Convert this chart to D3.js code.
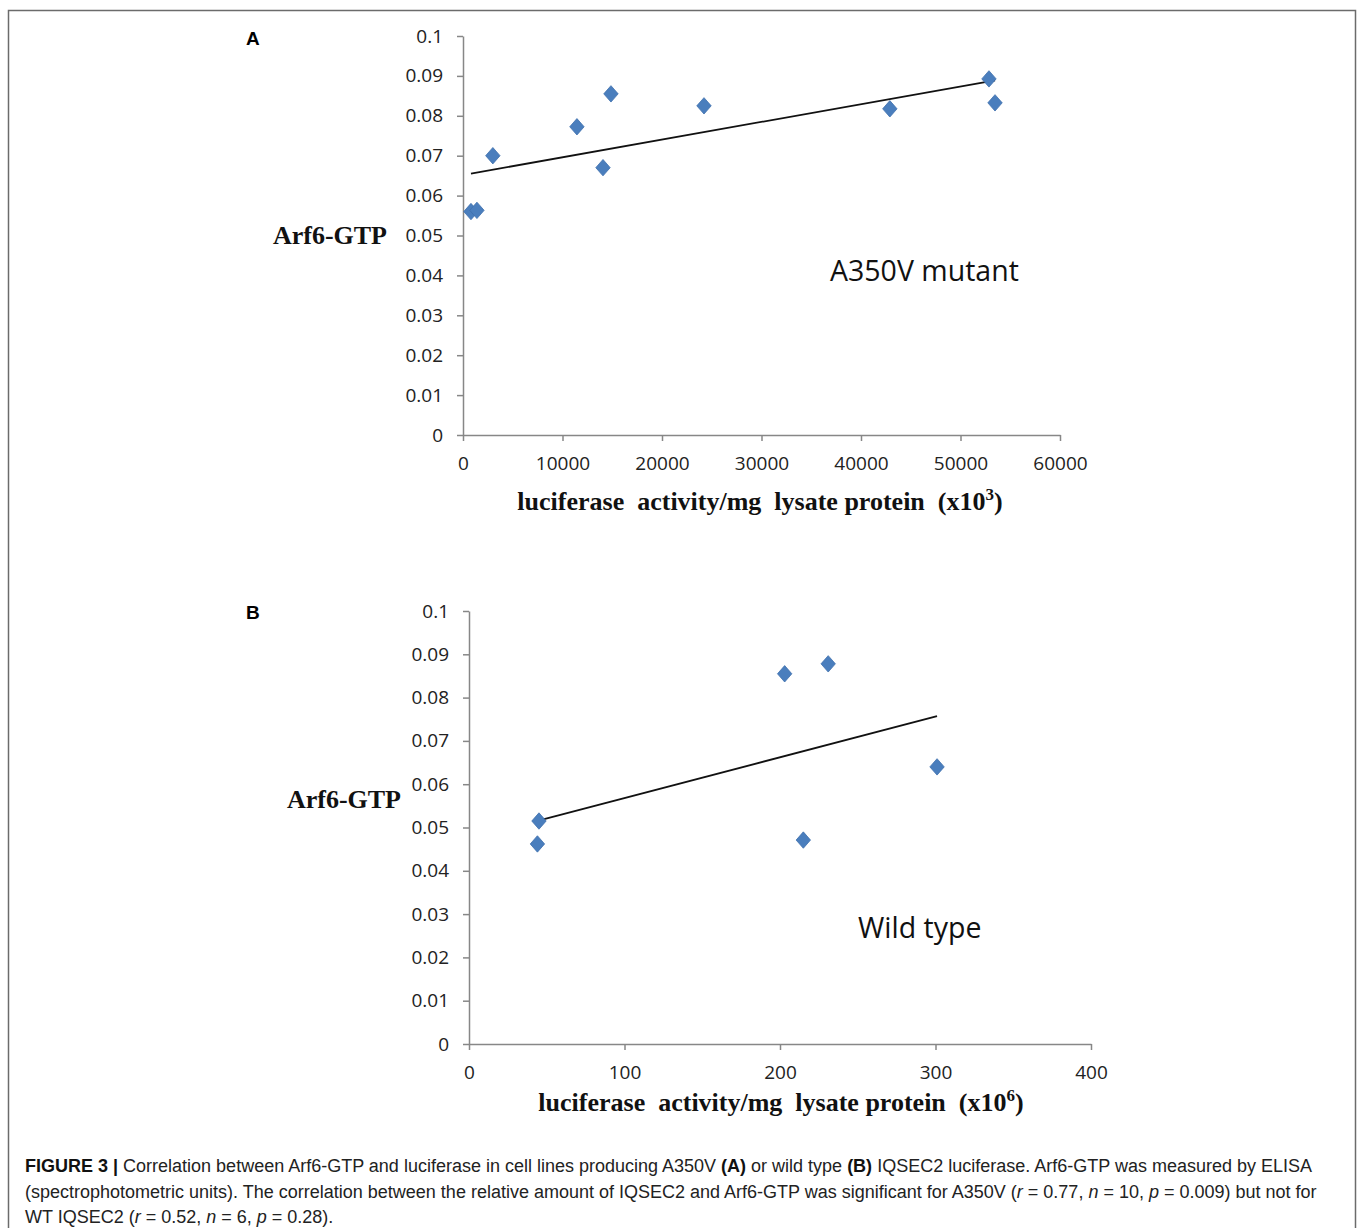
<!DOCTYPE html>
<html>
<head>
<meta charset="utf-8">
<script src="https://cdn.jsdelivr.net/npm/d3@7"></script>
<style>
    body { margin: 0; background: #fff; }
    .tick text { font-family: "Open Sans", sans-serif; font-size: 19px; fill: #222; }
    .axis path, .axis line { stroke: #878787; stroke-width: 1.5; }
    .ytitle, .xtitle { font-family: "Liberation Serif", serif; font-weight: bold; font-size: 26px; fill: #111; }
    .note { font-family: "Open Sans", sans-serif; font-size: 28.5px; fill: #111; }
    .letter { font-family: "Liberation Sans", Arial, sans-serif; font-weight: bold; font-size: 19px; fill: #000; }
    .caption { font-family: "Liberation Sans", Arial, sans-serif; font-size: 18px; fill: #222; }
</style>
</head>
<body>
<div id="chart"></div>
<script>
// panel A: A350V mutant
var xA = [800, 1400, 3000, 11450, 14070, 14870, 24220, 42900, 52860, 53470];
var yA = [0.056, 0.0563, 0.070, 0.07725, 0.067, 0.0855, 0.0825, 0.08175, 0.08925, 0.08325];
var xTicksA = [0, 10000, 20000, 30000, 40000, 50000, 60000];

// panel B: wild type
var xB = [45, 44, 203, 231, 215, 301];
var yB = [0.0515, 0.0462, 0.0855, 0.0878, 0.0471, 0.064];
var xTicksB = [0, 100, 200, 300, 400];

var yTicks = [0, 0.01, 0.02, 0.03, 0.04, 0.05, 0.06, 0.07, 0.08, 0.09, 0.1];

var W = 1358, H = 1228;
var svg = d3.select('#chart').append('svg')
    .attr('width', W).attr('height', H);

// frame round the figure
svg.append('path')
    .attr('d', 'M8.5,1240 V10.5 H1355.5 V1240')
    .attr('fill', 'none')
    .attr('stroke', '#6b6b6b')
    .attr('stroke-width', 1.5);

// excel-like diamond marker
var diamond = {
    draw: function(ctx, size){
        var w = 7.2, h = 8.2;
        ctx.moveTo(0, -h);
        ctx.lineTo(w, 0);
        ctx.lineTo(0, h);
        ctx.lineTo(-w, 0);
        ctx.closePath();
    }
};

function fit(xs, ys){
    var mx = d3.mean(xs), my = d3.mean(ys);
    var sxy = 0, sxx = 0;
    for (var i = 0; i < xs.length; i++){
        sxy += (xs[i]-mx)*(ys[i]-my);
        sxx += (xs[i]-mx)*(xs[i]-mx);
    }
    var b = sxy/sxx;
    return {b: b, a: my - b*mx};
}

var panels = [
    {
        letter: 'A', xs: xA, ys: yA, xTicks: xTicksA, xMax: 60000,
        left: 463, right: 1060, top: 36, bottom: 435,
        letterPos: [246, 45],
        ytitlePos: [387, 244],
        xtitlePos: [760, 510], pow: '3',
        note: 'A350V mutant', notePos: [830, 281]
    },
    {
        letter: 'B', xs: xB, ys: yB, xTicks: xTicksB, xMax: 400,
        left: 469, right: 1091, top: 611, bottom: 1044,
        letterPos: [246, 619],
        ytitlePos: [401, 808],
        xtitlePos: [781, 1111], pow: '6',
        note: 'Wild type', notePos: [858, 938]
    }
];

panels.forEach(function(p){
    var x = d3.scaleLinear().domain([0, p.xMax]).range([p.left, p.right]);
    var y = d3.scaleLinear().domain([0, 0.1]).range([p.bottom, p.top]);
    var g = svg.append('g');

    g.append('g')
        .attr('class', 'axis')
        .attr('transform', 'translate(0,' + p.bottom + ')')
        .call(d3.axisBottom(x).tickValues(p.xTicks).tickSize(6).tickSizeOuter(0).tickPadding(16)
            .tickFormat(function(d){ return String(d) }));

    g.append('g')
        .attr('class', 'axis')
        .attr('transform', 'translate(' + p.left + ',0)')
        .call(d3.axisLeft(y).tickValues(yTicks).tickSize(6).tickSizeOuter(0).tickPadding(14)
            .tickFormat(function(d){ return String(+d.toFixed(2)) }));

    // trend line over the data range
    var f = fit(p.xs, p.ys);
    var x0 = d3.min(p.xs), x1 = d3.max(p.xs);
    g.append('line')
        .attr('x1', x(x0)).attr('y1', y(f.a + f.b*x0))
        .attr('x2', x(x1)).attr('y2', y(f.a + f.b*x1))
        .attr('stroke', '#111')
        .attr('stroke-width', 1.8);

    g.selectAll('.dot').data(d3.zip(p.xs, p.ys)).enter()
        .append('path')
        .attr('class', 'dot')
        .attr('d', d3.symbol().type(diamond))
        .attr('transform', function(d){ return 'translate(' + x(d[0]) + ',' + y(d[1]) + ')' })
        .attr('fill', '#4a7ebd')
        .attr('stroke', '#3f70ad')
        .attr('stroke-width', 0.8);

    g.append('text').attr('class', 'letter')
        .attr('x', p.letterPos[0]).attr('y', p.letterPos[1]).text(p.letter);

    g.append('text').attr('class', 'ytitle')
        .attr('x', p.ytitlePos[0]).attr('y', p.ytitlePos[1])
        .attr('text-anchor', 'end').text('Arf6-GTP');

    var xt = g.append('text').attr('class', 'xtitle')
        .attr('x', p.xtitlePos[0]).attr('y', p.xtitlePos[1])
        .attr('text-anchor', 'middle')
        .attr('xml:space', 'preserve');
    xt.append('tspan').text('luciferase  activity/mg  lysate protein  (x10');
    xt.append('tspan').attr('dy', -10).attr('font-size', 17).text(p.pow);
    xt.append('tspan').attr('dy', 10).text(')');

    g.append('text').attr('class', 'note')
        .attr('x', p.notePos[0]).attr('y', p.notePos[1]).text(p.note);
});

// caption
var capLines = [
    [['b', 'FIGURE 3 | '], ['', 'Correlation between Arf6-GTP and luciferase in cell lines producing A350V '], ['b', '(A)'],
     ['', ' or wild type '], ['b', '(B)'], ['', ' IQSEC2 luciferase. Arf6-GTP was measured by ELISA']],
    [['', '(spectrophotometric units). The correlation between the relative amount of IQSEC2 and Arf6-GTP was significant for A350V ('],
     ['i', 'r'], ['', ' = 0.77, '], ['i', 'n'], ['', ' = 10, '], ['i', 'p'], ['', ' = 0.009) but not for']],
    [['', 'WT IQSEC2 ('], ['i', 'r'], ['', ' = 0.52, '], ['i', 'n'], ['', ' = 6, '], ['i', 'p'], ['', ' = 0.28).']]
];
var capY = [1172, 1198, 1223];

capLines.forEach(function(line, i){
    var t = svg.append('text').attr('class', 'caption')
        .attr('x', 25).attr('y', capY[i])
        .attr('xml:space', 'preserve');
    line.forEach(function(s){
        var sp = t.append('tspan').text(s[1]);
        if (s[0] == 'b') sp.attr('font-weight', 'bold').attr('fill', '#111');
        if (s[0] == 'i') sp.attr('font-style', 'italic');
    });
});
</script>
</body>
</html>
